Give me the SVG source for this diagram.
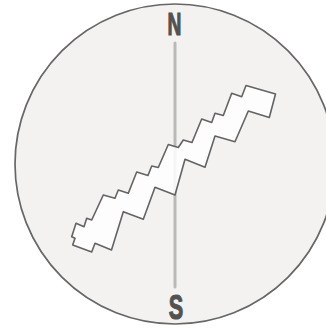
<svg xmlns="http://www.w3.org/2000/svg" width="326" height="328" viewBox="0 0 326 328">
  <style>
    .dial { fill: #f3f2f0; stroke: #666666; stroke-width: 1.7; }
    .needle { stroke: #b9b9b9; stroke-width: 3; stroke-linecap: round; fill: none; }
    .label { font-family: "Liberation Sans", Arial, sans-serif; font-weight: bold; fill: #525252; stroke: #525252; stroke-width: 1.2; text-anchor: middle; }
    .vein { fill: #ffffff; fill-opacity: 0.85; stroke: #636363; stroke-width: 1.6; stroke-linejoin: round; }
  </style>
  <rect width="326" height="328" fill="#ffffff"/>
  <g id="dial">
    <circle class="dial" cx="175" cy="164" r="160"/>
  </g>
  <g id="needle">
    <line class="needle" x1="175" y1="43" x2="175" y2="287"/>
  </g>
  <g id="north">
    <text class="label" font-size="31" transform="translate(174.5,35) scale(0.62,1)">N</text>
  </g>
  <g id="south">
    <text class="label" font-size="35" transform="translate(176,319) scale(0.62,1)">S</text>
  </g>
  <g id="fault">
    <polygon class="vein" points="76,223.3 84,226.7 86.7,218.3 91.7,220 103.3,195 115,198.3 118.3,190 128.3,193.3 136.7,172 148,175.5 151.7,166 158.3,167.5 168.3,144.5 178.3,147.5 183.3,140 192,142.5 201.7,119 211.7,122.5 215,113.3 223.3,115.5 231.7,93.3 241.7,96.7 246,85.5 275.5,94 269.3,117.5 248.3,111 235,141.7 215,136 205,167.3 185,159.3 175,195 155,187.3 143.3,219.3 123.3,211.7 111.5,250 95,243.3 91.7,252 72.7,245 75,238.3 71.7,236.7"/>
  </g>
</svg>
